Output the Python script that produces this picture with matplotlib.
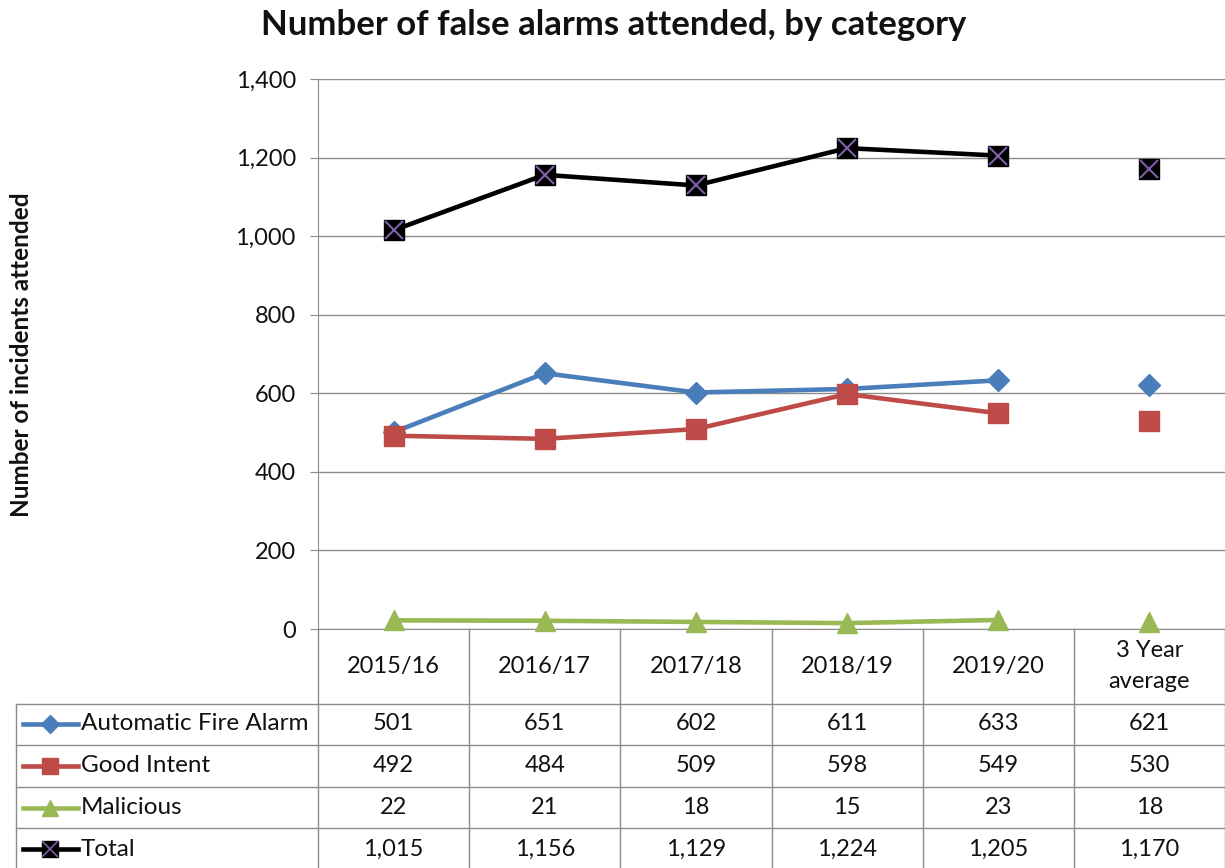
"""False alarms attended, by category: line chart with an Excel-style data table underneath."""
import matplotlib
matplotlib.use("Agg")
import matplotlib.pyplot as plt
from matplotlib.lines import Line2D
from matplotlib.ticker import FuncFormatter

plt.rcParams["font.family"] = ["Lato", "DejaVu Sans"]

categories = ["2015/16", "2016/17", "2017/18", "2018/19", "2019/20", "3 Year\naverage"]
series_names = ["Automatic Fire Alarm", "Good Intent", "Malicious", "Total"]
afa = [501, 651, 602, 611, 633, 621]
good_intent = [492, 484, 509, 598, 549, 530]
malicious = [22, 21, 18, 15, 23, 18]
total = [1015, 1156, 1129, 1224, 1205, 1170]
y_ticks = [0, 200, 400, 600, 800, 1000, 1200, 1400]

BLUE, RED, GREEN, BLACK, PURPLE = "#4A7EBB", "#BE4B48", "#98B954", "#000000", "#7E5FA8"
GRID = "#8C8C8C"
TXT = "#111111"
W, H = 1225, 868

styles = [
    dict(color=BLUE, marker="D", ms=11),
    dict(color=RED, marker="s", ms=14),
    dict(color=GREEN, marker="^", ms=14),
    dict(color=BLACK, marker="s", ms=14),
]


def fx(x):
    return x / W


def fy(y):
    return 1 - y / H


fig = plt.figure(figsize=(W / 100, H / 100), dpi=100)
left, right, top, bottom = 318, 1225, 79, 629
ax = fig.add_axes([fx(left), fy(bottom), fx(right - left), (bottom - top) / H])

n_years = len(categories) - 1
xs = list(range(len(categories)))
for vals, st in zip([afa, good_intent, malicious, total], styles):
    ax.plot(xs[:n_years], vals[:n_years], color=st["color"], lw=3.3, marker=st["marker"],
            ms=st["ms"], mfc=st["color"], mec=st["color"], zorder=3, clip_on=False)
    ax.plot(xs[n_years:], vals[n_years:], ls="none", marker=st["marker"], ms=st["ms"],
            mfc=st["color"], mec=st["color"], zorder=3, clip_on=False)
# purple cross inside the Total squares
ax.plot(xs, total, ls="none", marker="x", ms=13, mew=1.5, color=PURPLE, zorder=4)

ax.set_xlim(-0.5, len(categories) - 0.5)
ax.set_ylim(0, 1400)
ax.set_yticks(y_ticks)
ax.yaxis.set_major_formatter(FuncFormatter(lambda v, _: f"{int(v):,}"))
ax.tick_params(axis="y", length=6, color=GRID, labelsize=17, pad=10, labelcolor=TXT)
ax.set_xticks([])
ax.grid(axis="y", color=GRID, lw=1)
ax.set_axisbelow(True)
for s in ["top", "right"]:
    ax.spines[s].set_visible(False)
for s in ["left", "bottom"]:
    ax.spines[s].set_color(GRID)

fig.text(fx(614), fy(25), "Number of false alarms attended, by category", ha="center",
         va="center", fontsize=25, fontweight="bold", color=TXT)
fig.text(fx(22), fy(355), "Number of incidents attended", rotation=90, ha="center",
         va="center", fontsize=17.5, fontweight="bold", color=TXT)

# data table
col_w = (right - left) / len(categories)
row_lines = [704, 745, 787, 828]
row_mid = [724, 766, 808, 849]
for y in row_lines:
    fig.add_artist(Line2D([fx(16), 1], [fy(y), fy(y)], color=GRID, lw=1))
fig.add_artist(Line2D([fx(16), fx(16)], [fy(704), 0], color=GRID, lw=1))
for i in range(len(categories) + 1):
    x = left + i * col_w
    fig.add_artist(Line2D([fx(x), fx(x)], [fy(bottom), 0], color=GRID, lw=1))

for i, cat in enumerate(categories):
    fig.text(fx(left + (i + 0.5) * col_w), fy(666), cat, ha="center", va="center",
             fontsize=17, linespacing=1.55, color=TXT)

for r, (name, vals, st) in enumerate(zip(series_names, [afa, good_intent, malicious, total], styles)):
    ym = fy(row_mid[r])
    fig.add_artist(Line2D([fx(23), fx(78)], [ym, ym], color=st["color"], lw=3.3))
    fig.add_artist(Line2D([fx(50)], [ym], color=st["color"], marker=st["marker"],
                          ms=st["ms"] * 0.85, mfc=st["color"], mec=st["color"], ls="none"))
    if name == "Total":
        fig.add_artist(Line2D([fx(50)], [ym], color=PURPLE, marker="x", ms=11, mew=1.2,
                              ls="none"))
    fig.text(fx(81), ym, name, ha="left", va="center", fontsize=17.5, color=TXT)
    for i, v in enumerate(vals):
        fig.text(fx(left + (i + 0.5) * col_w), ym, f"{v:,}", ha="center", va="center",
                 fontsize=17, color=TXT)

fig.savefig("out.png", dpi=100)
